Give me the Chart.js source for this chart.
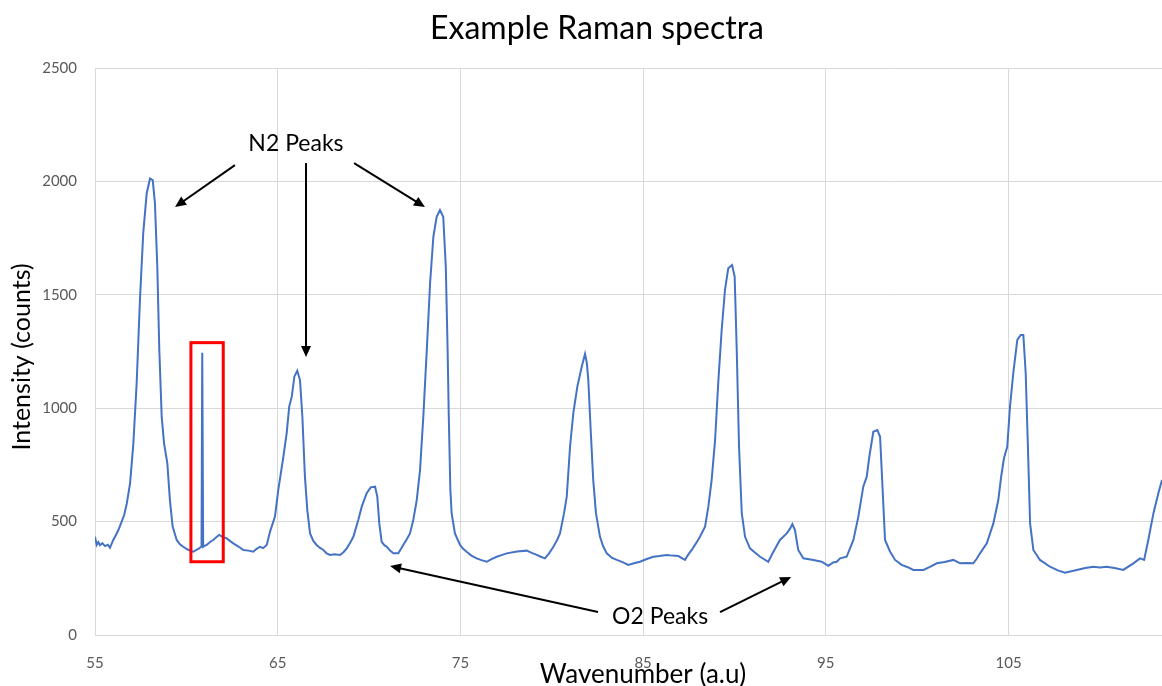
<!DOCTYPE html>
<html>
<head>
<meta charset="utf-8">
<title>Example Raman spectra</title>
<script src="https://cdn.jsdelivr.net/npm/chart.js@4.4.1/dist/chart.umd.min.js"></script>
<style>
  html, body { margin: 0; padding: 0; background: #fff; }
  #wrap { width: 1162px; height: 686px; position: relative; }
</style>
</head>
<body>
<div id="wrap"><canvas id="myChart"></canvas></div>
<script>
// spectrum
const wavenumber = [
    55.00, 55.09, 55.18, 55.27, 55.40, 55.55, 55.70, 55.82, 56.00, 56.14,
    56.28, 56.46, 56.60, 56.74, 56.92, 57.10, 57.28, 57.46, 57.64, 57.83,
    58.01, 58.16, 58.28, 58.41, 58.52, 58.65, 58.78, 58.96, 59.10, 59.25,
    59.47, 59.65, 59.83, 60.05, 60.20, 60.38, 60.55, 60.70, 60.83, 60.87,
    60.92, 60.97, 61.11, 61.30, 61.47, 61.65, 61.80, 62.00, 62.21, 62.40,
    62.57, 62.85, 63.12, 63.40, 63.66, 63.85, 64.03, 64.20, 64.40, 64.58,
    64.72, 64.85, 65.03, 65.31, 65.49, 65.63, 65.77, 65.91, 66.07, 66.22,
    66.35, 66.49, 66.62, 66.77, 66.95, 67.13, 67.30, 67.50, 67.68, 67.86,
    68.10, 68.41, 68.60, 68.78, 68.95, 69.14, 69.41, 69.60, 69.87, 70.09,
    70.33, 70.45, 70.56, 70.69, 70.85, 70.97, 71.15, 71.33, 71.60, 71.75,
    71.87, 72.05, 72.24, 72.42, 72.61, 72.79, 72.97, 73.16, 73.34, 73.52,
    73.70, 73.88, 74.06, 74.20, 74.30, 74.36, 74.45, 74.52, 74.70, 74.98,
    75.15, 75.34, 75.60, 75.89, 76.15, 76.44, 76.70, 76.99, 77.25, 77.53,
    78.10, 78.63, 78.90, 79.18, 79.40, 79.63, 79.85, 80.09, 80.30, 80.45,
    80.67, 80.82, 81.00, 81.18, 81.40, 81.64, 81.82, 81.92, 82.00, 82.13,
    82.27, 82.42, 82.64, 82.82, 83.01, 83.30, 83.56, 83.90, 84.19, 84.50,
    84.83, 85.20, 85.56, 85.90, 86.29, 86.60, 86.93, 87.10, 87.29, 87.45,
    87.66, 87.90, 88.11, 88.39, 88.57, 88.75, 88.94, 89.12, 89.30, 89.48,
    89.66, 89.87, 90.01, 90.12, 90.25, 90.40, 90.58, 90.85, 91.10, 91.40,
    91.60, 91.85, 92.13, 92.49, 92.86, 93.05, 93.17, 93.31, 93.49, 93.77,
    94.32, 94.77, 95.14, 95.40, 95.60, 95.78, 96.14, 96.51, 96.78, 97.05,
    97.24, 97.38, 97.60, 97.82, 97.97, 98.11, 98.24, 98.52, 98.79, 99.15,
    99.45, 99.79, 100.34, 100.70, 101.07, 101.50, 101.98, 102.35, 102.70, 103.07,
    103.25, 103.44, 103.81, 104.17, 104.44, 104.60, 104.75, 104.93, 105.08, 105.26,
    105.48, 105.67, 105.81, 105.94, 106.05, 106.18, 106.36, 106.72, 107.27, 107.70,
    108.09, 108.73, 109.20, 109.64, 110.00, 110.37, 110.80, 111.28, 111.83, 112.20,
    112.42, 112.65, 112.93, 113.20, 113.40
];

const intensity = [
    433, 397, 410, 396, 405, 392, 398, 385, 419, 440,
    463, 500, 530, 580, 669, 845, 1110, 1477, 1772, 1948,
    2013, 2006, 1904, 1624, 1257, 963, 845, 757, 595, 478,
    419, 400, 389, 378, 372, 367, 375, 382, 390, 1245,
    389, 392, 397, 410, 419, 432, 441, 432, 426, 414,
    404, 390, 375, 372, 367, 380, 389, 383, 397, 456,
    490, 522, 639, 786, 889, 1007, 1051, 1139, 1165, 1124,
    963, 698, 551, 448, 415, 397, 385, 375, 360, 353,
    356, 353, 365, 382, 405, 433, 507, 566, 625, 651,
    654, 610, 492, 411, 395, 389, 372, 360, 360, 380,
    397, 420, 448, 507, 595, 727, 963, 1257, 1551, 1756,
    1844, 1874, 1844, 1624, 1257, 978, 640, 536, 448, 397,
    380, 367, 350, 338, 330, 323, 335, 345, 352, 360,
    368, 372, 362, 353, 345, 338, 360, 389, 420, 448,
    536, 610, 830, 978, 1095, 1183, 1239, 1200, 1124, 904,
    683, 536, 433, 390, 360, 340, 331, 320, 309, 316,
    323, 335, 345, 348, 353, 350, 348, 340, 331, 352,
    375, 405, 433, 478, 566, 683, 860, 1124, 1345, 1521,
    1617, 1631, 1580, 1271, 830, 536, 433, 382, 365, 345,
    335, 323, 367, 419, 448, 470, 489, 463, 375, 338,
    331, 323, 305, 320, 323, 338, 345, 419, 522, 654,
    698, 786, 896, 904, 874, 639, 419, 367, 331, 309,
    300, 287, 287, 300, 316, 322, 331, 316, 318, 316,
    335, 360, 404, 492, 595, 700, 779, 830, 1007, 1154,
    1301, 1323, 1323, 1154, 860, 492, 375, 331, 301, 285,
    275, 287, 295, 301, 298, 301, 295, 287, 316, 338,
    331, 419, 536, 625, 683
];

const xTicks = [55, 65, 75, 85, 95, 105];
const yTicks = [0, 500, 1000, 1500, 2000, 2500];

// annotations in data units: [fromX, fromY, toX, toY]
const n2Arrows = [
    [62.66, 2072, 59.38, 1887],
    [66.55, 2081, 66.55, 1226],
    [69.18, 2081, 73.06, 1887]
];
const o2Arrows = [
    [82.53, 101, 71.15, 304],
    [89.21, 101, 93.10, 256]
];
const n2Label = [66.0, 2169];
const o2Label = [85.93, 88];
// left, right, bottom, top
const spikeBox = [60.25, 62.02, 323, 1289];

const FONT = 'Lato, "Open Sans", sans-serif';

function arrow(ctx, x1, y1, x2, y2) {
    const a = Math.atan2(y2 - y1, x2 - x1);
    const len = 11, half = 5;
    ctx.beginPath();
    ctx.moveTo(x1, y1);
    ctx.lineTo(x2 - Math.cos(a) * len * 0.8, y2 - Math.sin(a) * len * 0.8);
    ctx.stroke();
    ctx.beginPath();
    ctx.moveTo(x2, y2);
    ctx.lineTo(x2 - Math.cos(a) * len - Math.sin(a) * half, y2 - Math.sin(a) * len + Math.cos(a) * half);
    ctx.lineTo(x2 - Math.cos(a) * len + Math.sin(a) * half, y2 - Math.sin(a) * len - Math.cos(a) * half);
    ctx.closePath();
    ctx.fill();
}

const overlay = {
    id: 'overlay',
    afterDraw(chart) {
        const { ctx, scales: { x, y } } = chart;
        const px = v => x.getPixelForValue(v);
        const py = v => y.getPixelForValue(v);
        ctx.save();

        // red box round the spike
        ctx.strokeStyle = '#ff0000';
        ctx.lineWidth = 3;
        ctx.strokeRect(px(spikeBox[0]), py(spikeBox[3]),
            px(spikeBox[1]) - px(spikeBox[0]), py(spikeBox[2]) - py(spikeBox[3]));

        // arrows
        ctx.strokeStyle = '#000';
        ctx.fillStyle = '#000';
        ctx.lineWidth = 2;
        for (const a of n2Arrows.concat(o2Arrows)) {
            arrow(ctx, px(a[0]), py(a[1]), px(a[2]), py(a[3]));
        }

        // texts
        ctx.textAlign = 'center';
        ctx.textBaseline = 'alphabetic';
        ctx.fillStyle = '#000';
        ctx.font = '23px ' + FONT;
        ctx.fillText('N2 Peaks', px(n2Label[0]), py(n2Label[1]) + 8);
        ctx.fillText('O2 Peaks', px(o2Label[0]), py(o2Label[1]) + 9);

        ctx.font = '32px ' + FONT;
        ctx.fillText('Example Raman spectra', 597, 39);

        ctx.font = '26px ' + FONT;
        ctx.fillText('Wavenumber (a.u)', 643, 683);

        ctx.translate(30, 357);
        ctx.rotate(-Math.PI / 2);
        ctx.font = '25px ' + FONT;
        ctx.fillText('Intensity (counts)', 0, 0);

        ctx.restore();
    }
};

const points = wavenumber.map((w, i) => ({ x: w, y: intensity[i] }));

var ctx = document.getElementById('myChart').getContext('2d');
new Chart(ctx, {
    type: 'line',
    data: {
        datasets: [{
            label: 'Raman spectrum',
            data: points,
            borderColor: '#4472C4',
            borderWidth: 2,
            pointRadius: 0,
            tension: 0,
            fill: false
        }]
    },
    options: {
        responsive: true,
        maintainAspectRatio: false,
        animation: false,
        devicePixelRatio: 1,
        layout: { padding: { top: 68, right: 0, bottom: 0, left: 0 } },
        plugins: {
            legend: { display: false },
            title: { display: false },
            tooltip: { enabled: false }
        },
        scales: {
            x: {
                type: 'linear',
                min: 55,
                max: 113.4,
                afterBuildTicks: scale => {
                    scale.ticks = xTicks.map(v => ({ value: v }));
                },
                afterFit: scale => { scale.height = 51; },
                grid: { color: '#d9d9d9', drawTicks: false },
                border: { color: '#d9d9d9', width: 1 },
                ticks: {
                    padding: 19,
                    maxRotation: 0,
                    color: '#595959',
                    font: { family: FONT, size: 15 },
                    callback: v => String(v)
                }
            },
            y: {
                min: 0,
                max: 2500,
                afterBuildTicks: scale => {
                    scale.ticks = yTicks.map(v => ({ value: v }));
                },
                afterFit: scale => { scale.width = 95; },
                grid: { color: '#d9d9d9', drawTicks: false },
                border: { color: '#d9d9d9', width: 1 },
                ticks: {
                    padding: 18,
                    color: '#595959',
                    font: { family: FONT, size: 15 },
                    callback: v => String(v)
                }
            }
        }
    },
    plugins: [overlay]
});
</script>
</body>
</html>
